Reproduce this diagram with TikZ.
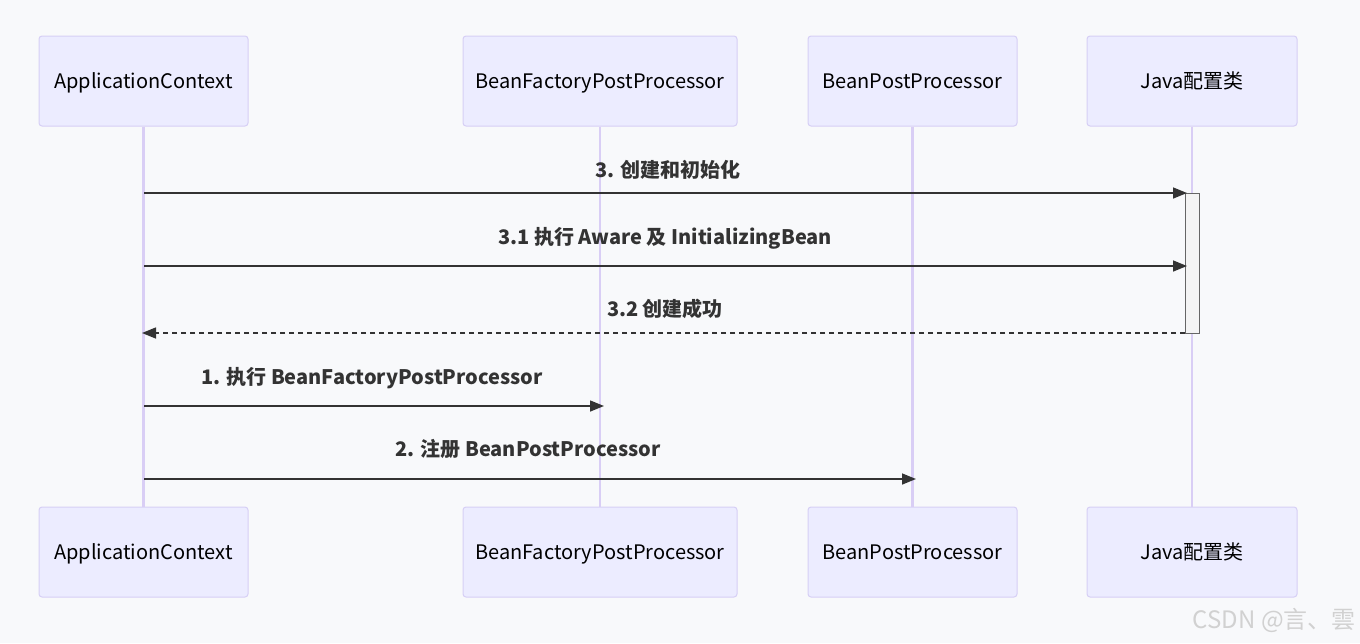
\documentclass[tikz,border=0pt]{standalone}
\usepackage{fontspec}
\setmainfont{Noto Sans CJK SC}
\usetikzlibrary{arrows.meta}
\definecolor{bg}{HTML}{F8F9FB}
\definecolor{actfill}{HTML}{ECECFF}
\definecolor{actdraw}{HTML}{D6CFF5}
\definecolor{lifeline}{HTML}{D9CEF5}
\definecolor{msg}{HTML}{333333}
\definecolor{actvfill}{HTML}{F4F4F4}
\definecolor{actvdraw}{HTML}{666666}
\tikzset{
  actor/.style={draw=actdraw, fill=actfill, line width=1pt, rounded corners=3pt,
    minimum height=90pt, inner sep=0pt, text height=19pt, text depth=4pt,
    font=\fontsize{20}{24}\selectfont, text=black},
  life/.style={draw=lifeline, line width=2.2pt},
  msgline/.style={draw=msg, line width=1.5pt, -{Triangle[length=14pt,width=11pt]}},
  dashmsg/.style={msgline, dash pattern=on 5pt off 4pt},
  lbl/.style={font=\bfseries\fontsize{20}{24}\selectfont, text=msg, inner sep=0pt,
    text height=19pt, text depth=4pt},
}
\begin{document}
\begin{tikzpicture}[x=1pt,y=-1pt]
\fill[bg] (0,0) rectangle (1360,643);
\useasboundingbox (0,0) rectangle (1360,643);
% top actors
\node[actor, minimum width=209pt] (a1) at (143.5,81) {ApplicationContext};
\node[actor, minimum width=274pt] (b1) at (600,81) {BeanFactoryPostProcessor};
\node[actor, minimum width=209pt] (c1) at (912.5,81) {BeanPostProcessor};
\node[actor, minimum width=210pt] (d1) at (1192,81) {Java配置类};
% bottom actors
\node[actor, minimum width=209pt] (a2) at (143.5,552) {ApplicationContext};
\node[actor, minimum width=274pt] (b2) at (600,552) {BeanFactoryPostProcessor};
\node[actor, minimum width=209pt] (c2) at (912.5,552) {BeanPostProcessor};
\node[actor, minimum width=210pt] (d2) at (1192,552) {Java配置类};
% lifelines
\draw[life] (a1.south) -- (a2.north);
\draw[life] (b1.south) -- (b2.north);
\draw[life] (c1.south) -- (c2.north);
\draw[life] (d1.south) -- (d2.north);
% activation
\node[draw=actvdraw, fill=actvfill, line width=1pt, minimum width=14pt, minimum height=140pt, inner sep=0pt] (act) at (1192,263) {};
% coordinates
\coordinate (m1s) at (144,193); \coordinate (m1e) at (1187,193);
\coordinate (m2s) at (144,266); \coordinate (m2e) at (1187,266);
\coordinate (m3s) at (1185,333); \coordinate (m3e) at (142,333);
\coordinate (m4s) at (144,406); \coordinate (m4e) at (604,406);
\coordinate (m5s) at (144,479); \coordinate (m5e) at (916,479);
\draw[msgline] (m1s) -- (m1e);
\draw[msgline] (m2s) -- (m2e);
\draw[dashmsg] (m3s) -- (m3e);
\draw[msgline] (m4s) -- (m4e);
\draw[msgline] (m5s) -- (m5e);
\node[lbl] (l1) at (668,170) {3. 创建和初始化};
\node[lbl] (l2) at (665,237) {3.1 执行 Aware 及 InitializingBean};
\node[lbl] (l3) at (665,309) {3.2 创建成功};
\node[lbl] (l4) at (372,377) {1. 执行 BeanFactoryPostProcessor};
\node[lbl] (l5) at (528,449) {2. 注册 BeanPostProcessor};
% watermark
\node[font=\fontsize{24}{26}\selectfont, text=black!18, anchor=east, inner sep=0pt] (wm) at (1356,620) {CSDN @言、雲};
\end{tikzpicture}
\end{document}
